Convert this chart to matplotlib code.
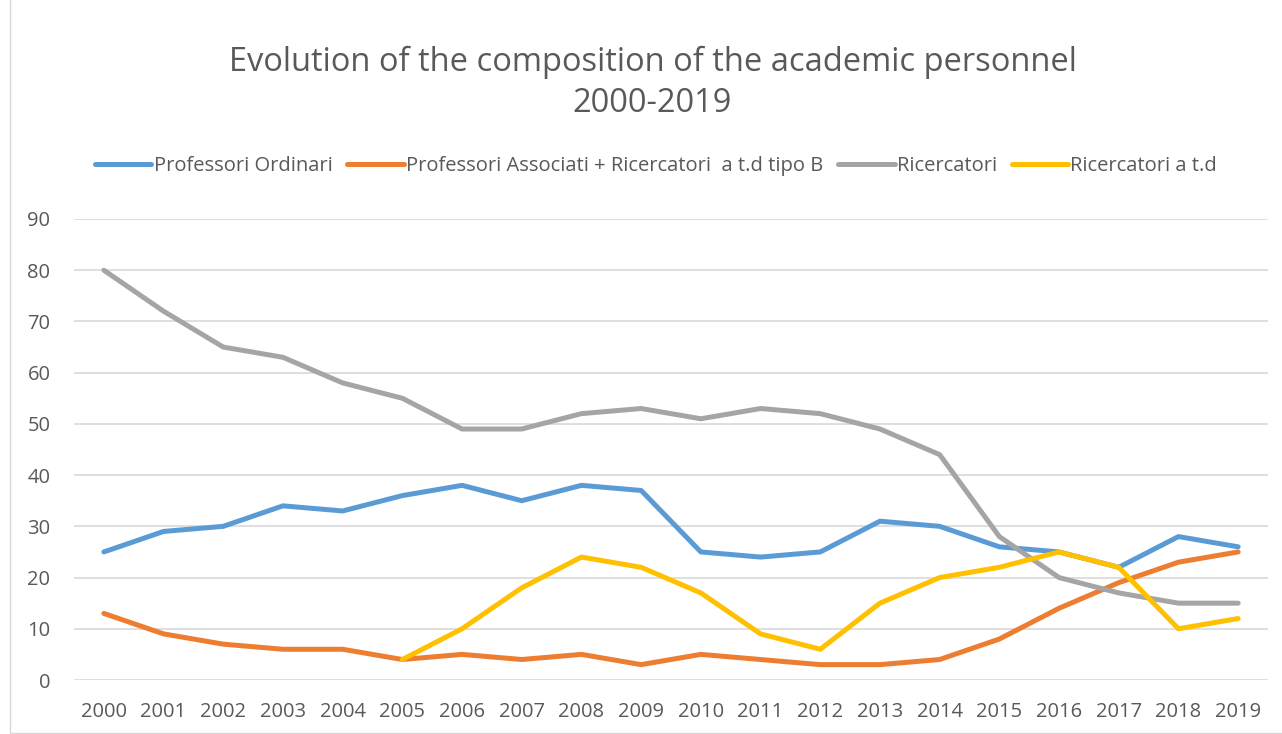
import matplotlib
matplotlib.use('Agg')
import matplotlib.pyplot as plt
import numpy as np

# Data
years = [str(y) for y in range(2000, 2020)]
ordinari = [25, 29, 30, 34, 33, 36, 38, 35, 38, 37, 25, 24, 25, 31, 30, 26, 25, 22, 28, 26]
associati = [13, 9, 7, 6, 6, 4, 5, 4, 5, 3, 5, 4, 3, 3, 4, 8, 14, 19, 23, 25]
ricercatori = [80, 72, 65, 63, 58, 55, 49, 49, 52, 53, 51, 53, 52, 49, 44, 28, 20, 17, 15, 15]
ricercatori_td = [np.nan] * 5 + [4, 10, 18, 24, 22, 17, 9, 6, 15, 20, 22, 25, 22, 10, 12]

series = [
    ('Professori Ordinari', ordinari, '#5B9BD5'),
    ('Professori Associati + Ricercatori  a t.d tipo B', associati, '#ED7D31'),
    ('Ricercatori', ricercatori, '#A5A5A5'),
    ('Ricercatori a t.d', ricercatori_td, '#FFC000'),
]

txt = '#595959'
plt.rcParams['font.family'] = ['Open Sans', 'DejaVu Sans']

fig = plt.figure(figsize=(12.82, 7.34), dpi=100)
ax = fig.add_axes([74 / 1282, 1 - 680 / 734, (1268 - 74) / 1282, (680 - 219) / 734])

x = np.arange(len(years))
for name, vals, col in series:
    ax.plot(x, vals, color=col, lw=3.6, label=name, solid_capstyle='round', solid_joinstyle='round')

ax.set_xlim(-0.5, len(years) - 0.5)
ax.set_ylim(0, 90)
ax.set_yticks(range(0, 91, 10))
ax.set_xticks(x)
ax.set_xticklabels(years)
ax.grid(axis='y', color='#D9D9D9', lw=1.2)
ax.set_axisbelow(True)
for sp in ax.spines.values():
    sp.set_visible(False)
ax.tick_params(length=0, labelsize=14.5, colors=txt)
ax.tick_params(axis='x', pad=16)
ax.tick_params(axis='y', pad=17)

fig.text(0.509, 1 - 62 / 734, 'Evolution of the composition of the academic personnel',
         ha='center', va='center', fontsize=23.5, color=txt)
fig.text(0.509, 1 - 104 / 734, '2000-2019', ha='center', va='center', fontsize=23.5, color=txt)

fig.legend(loc='center', bbox_to_anchor=(656 / 1282, 1 - 166 / 734), ncol=4, frameon=False,
           fontsize=14.5, labelcolor=txt, handlelength=2.8, handletextpad=0.1, columnspacing=0.75)

# light frame around the chart
fig.patches.append(plt.Rectangle((10 / 1282, 0.002), 1.2, 1.2, transform=fig.transFigure,
                                 fill=False, edgecolor='#D9D9D9', lw=1))

fig.savefig('out.png', dpi=100)
